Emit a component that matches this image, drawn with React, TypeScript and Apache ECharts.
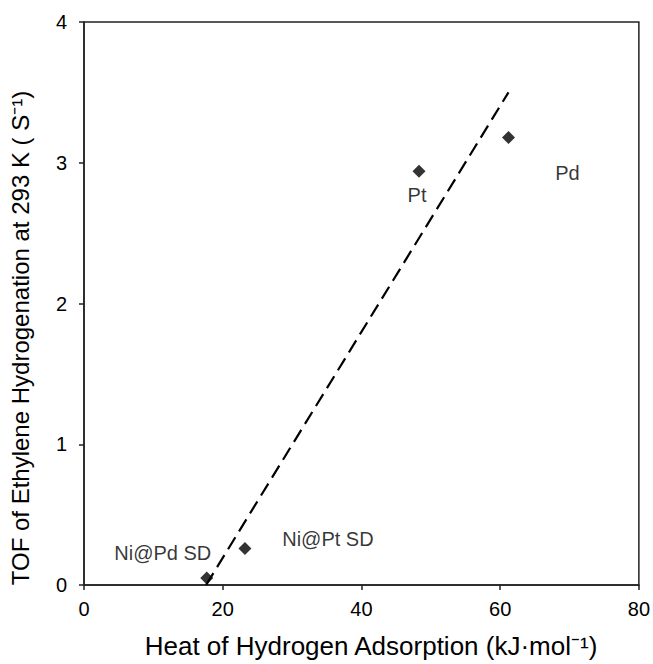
import React, { useEffect, useRef } from "react";
import * as echarts from "echarts";

const names = ["Ni@Pd SD", "Ni@Pt SD", "Pt", "Pd"];
const heatValues = [17.7, 23.2, 48.3, 61.2];
const tofValues = [0.05, 0.26, 2.94, 3.18];
const labelOffsets: [number, number][] = [
  [-44, -25],
  [83, -9],
  [-2, 24],
  [59, 36],
];
const fitLine: [number, number][] = [
  [17.6, 0],
  [61.2, 3.5],
];
const xTitle = "Heat of Hydrogen Adsorption (kJ·mol⁻¹)";
const yTitle = "TOF of Ethylene Hydrogenation at 293 K ( S⁻¹)";

const FONT = "'Liberation Sans', Arial, sans-serif";

export default function App() {
  const ref = useRef<HTMLDivElement>(null);
  useEffect(() => {
    if (!ref.current) return;
    const chart = echarts.init(ref.current, undefined, { renderer: "svg" });
    chart.setOption({
      animation: false,
      backgroundColor: "#ffffff",
      grid: {
        left: 84,
        right: 14,
        top: 22,
        bottom: 79,
        show: true,
        borderColor: "#222",
        borderWidth: 1.5,
        backgroundColor: "transparent",
      },
      xAxis: {
        type: "value",
        min: 0,
        max: 80,
        interval: 20,
        axisLine: { show: true, onZero: false, lineStyle: { color: "#222", width: 1.5 } },
        axisTick: { show: true, inside: false, length: 5, lineStyle: { color: "#222", width: 1.5 } },
        axisLabel: { color: "#000", fontSize: 20, fontFamily: FONT, margin: 14 },
        splitLine: { show: false },
      },
      yAxis: {
        type: "value",
        min: 0,
        max: 4,
        interval: 1,
        axisLine: { show: true, onZero: false, lineStyle: { color: "#222", width: 1.5 } },
        axisTick: { show: true, inside: false, length: 5, lineStyle: { color: "#222", width: 1.5 } },
        axisLabel: { color: "#000", fontSize: 20, fontFamily: FONT, margin: 17 },
        splitLine: { show: false },
      },
      series: [
        {
          type: "line",
          data: fitLine,
          symbol: "none",
          lineStyle: { color: "#000", width: 2.2, type: [14, 7] },
          z: 2,
        },
        {
          type: "scatter",
          data: heatValues.map((x, i) => ({
            value: [x, tofValues[i]],
            name: names[i],
            label: {
              show: true,
              position: "inside",
              formatter: names[i],
              offset: labelOffsets[i],
              color: "#000",
              fontSize: 20,
              fontFamily: FONT,
              align: "center",
              verticalAlign: "middle",
            },
          })),
          symbol: "diamond",
          symbolSize: 13,
          itemStyle: { color: "#000" },
          z: 3,
        },
      ],
      graphic: [
        {
          type: "text",
          x: 371,
          y: 646,
          style: {
            text: xTitle,
            fontSize: 26,
            fontFamily: FONT,
            fill: "#000",
            align: "center",
            verticalAlign: "middle",
          },
        },
        {
          type: "text",
          x: 20,
          y: 338,
          rotation: Math.PI / 2,
          style: {
            text: yTitle,
            fontSize: 24,
            fontFamily: FONT,
            fill: "#000",
            align: "center",
            verticalAlign: "middle",
          },
        },
      ],
    });
    return () => chart.dispose();
  }, []);
  return <div ref={ref} style={{ width: 653, height: 664, position: "absolute", left: 0, top: 0 }} />;
}
